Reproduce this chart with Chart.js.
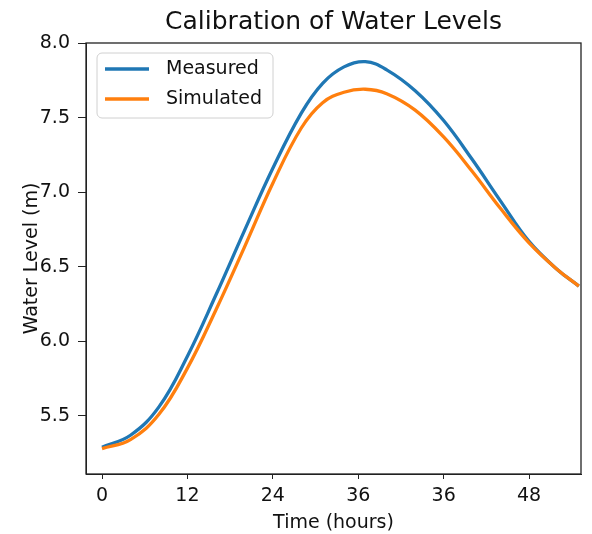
<!DOCTYPE html>
<html>
<head>
<meta charset="utf-8">
<script src="https://cdn.jsdelivr.net/npm/chart.js@4"></script>
<style>
  body { margin: 0; background: #fff; }
  canvas { display: block; }
</style>
</head>
<body>
<canvas id="levelChart" width="592" height="534"></canvas>
<script>
// hours, water levels (m)
var times = [0, 4, 8, 12, 16, 20, 24, 28, 31, 34, 37, 40, 44, 48, 52, 56, 60, 64, 67];
var measured = [5.29, 5.37, 5.56, 5.90, 6.31, 6.74, 7.16, 7.53, 7.73, 7.84, 7.875, 7.82, 7.68, 7.48, 7.22, 6.94, 6.67, 6.48, 6.37];
var simulated = [5.28, 5.34, 5.51, 5.82, 6.21, 6.63, 7.06, 7.43, 7.60, 7.67, 7.69, 7.66, 7.55, 7.37, 7.14, 6.89, 6.66, 6.48, 6.37];

var xTickPos = [0, 12, 24, 36, 48, 60];
var xTickLabels = ['0', '12', '24', '36', '36', '48'];
var yTicks = [5.5, 6.0, 6.5, 7.0, 7.5, 8.0];

var FONT = 'DejaVu Sans';

function toPoints(ys) {
  return times.map(function (t, i) { return { x: t, y: ys[i] }; });
}

// frame around the plot + legend box inside the axes (upper left)
var framePlugin = {
  id: 'frame',
  afterDraw: function (chart) {
    var ctx = chart.ctx, a = chart.chartArea;
    ctx.save();
    ctx.strokeStyle = '#222';
    ctx.lineWidth = 1.3;
    ctx.strokeRect(a.left, a.top, a.right - a.left, a.bottom - a.top);

    var bx = a.left + 11, by = a.top + 10, bw = 176, bh = 65, r = 5;
    ctx.beginPath();
    ctx.moveTo(bx + r, by);
    ctx.arcTo(bx + bw, by, bx + bw, by + bh, r);
    ctx.arcTo(bx + bw, by + bh, bx, by + bh, r);
    ctx.arcTo(bx, by + bh, bx, by, r);
    ctx.arcTo(bx, by, bx + bw, by, r);
    ctx.closePath();
    ctx.fillStyle = 'rgba(255,255,255,0.8)';
    ctx.fill();
    ctx.strokeStyle = '#d0d0d0';
    ctx.lineWidth = 1;
    ctx.stroke();

    ctx.font = '19px "' + FONT + '"';
    ctx.textBaseline = 'middle';
    ctx.fillStyle = '#111';
    chart.data.datasets.forEach(function (ds, i) {
      var y = by + 16 + i * 30;
      ctx.strokeStyle = ds.borderColor;
      ctx.lineWidth = 3.3;
      ctx.beginPath();
      ctx.moveTo(bx + 8, y);
      ctx.lineTo(bx + 52, y);
      ctx.stroke();
      ctx.fillText(ds.label, bx + 69, y);
    });
    ctx.restore();
  }
};

var ctx = document.getElementById('levelChart').getContext('2d');
var levelChart = new Chart(ctx, {
  type: 'line',
  data: {
    datasets: [{
      label: 'Measured',
      data: toPoints(measured),
      borderColor: '#1f77b4',
      borderWidth: 3.3,
      pointRadius: 0,
      tension: 0.4,
      order: 2
    }, {
      label: 'Simulated',
      data: toPoints(simulated),
      borderColor: '#ff7f0e',
      borderWidth: 3.3,
      pointRadius: 0,
      tension: 0.4,
      order: 1
    }]
  },
  options: {
    responsive: false,
    animation: false,
    layout: { padding: { top: 0, right: 11, bottom: 0, left: 0 } },
    plugins: {
      legend: { display: false },
      tooltip: { enabled: false },
      title: {
        display: true,
        text: 'Calibration of Water Levels',
        fullSize: false,
        color: '#111',
        font: { family: FONT, size: 25, weight: 'normal' },
        padding: { top: 7, bottom: 6 }
      }
    },
    scales: {
      x: {
        type: 'linear',
        min: -2.25,
        max: 67.3,
        afterBuildTicks: function (axis) {
          axis.ticks = xTickPos.map(function (v) { return { value: v }; });
        },
        afterFit: function (scale) { scale.height = 60; },
        ticks: {
          color: '#111',
          padding: 6,
          maxRotation: 0,
          font: { family: FONT, size: 19 },
          callback: function (value, index) { return xTickLabels[index]; }
        },
        grid: { drawOnChartArea: false, drawTicks: true, tickLength: 5, color: '#222' },
        border: { color: '#222' },
        title: {
          display: true,
          text: 'Time (hours)',
          color: '#111',
          font: { family: FONT, size: 19 },
          padding: { top: 0, bottom: 0 }
        }
      },
      y: {
        min: 5.11,
        max: 8.0,
        afterBuildTicks: function (axis) {
          axis.ticks = yTicks.map(function (v) { return { value: v }; });
        },
        afterFit: function (scale) { scale.width = 86; },
        ticks: {
          color: '#111',
          padding: 8,
          font: { family: FONT, size: 19 },
          callback: function (value) { return value.toFixed(1); }
        },
        grid: { drawOnChartArea: false, drawTicks: true, tickLength: 8, color: '#222' },
        border: { color: '#222' },
        title: {
          display: true,
          text: 'Water Level (m)',
          color: '#111',
          font: { family: FONT, size: 19 },
          padding: { top: 21, bottom: 0 }
        }
      }
    }
  },
  plugins: [framePlugin]
});
</script>
</body>
</html>
